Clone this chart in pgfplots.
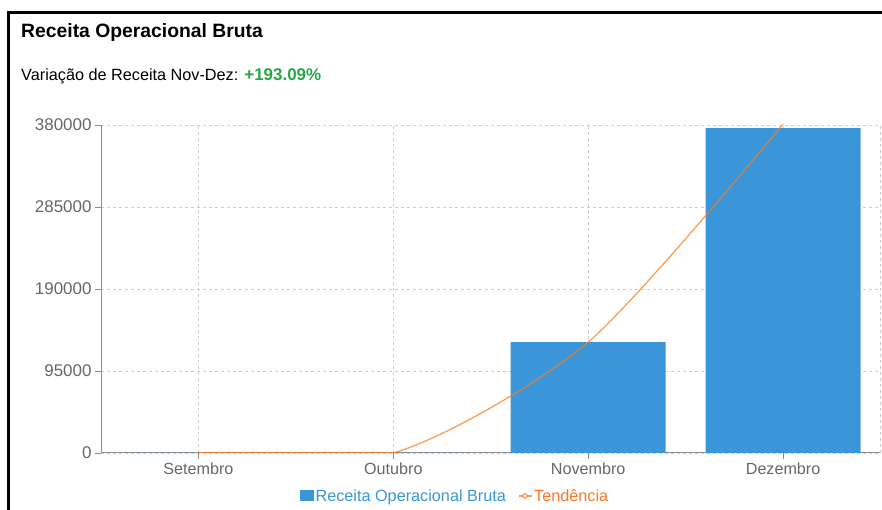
\documentclass[border=0pt]{standalone}
\usepackage{fontspec}
\setmainfont{Liberation Sans}
\usepackage{pgfplots}
\pgfplotsset{compat=1.18}
\definecolor{barblue}{RGB}{58,150,216}
\definecolor{trendor}{RGB}{250,125,30}
\definecolor{legor}{RGB}{250,120,40}
\definecolor{tickgray}{RGB}{102,102,102}
\definecolor{axgray}{RGB}{140,140,140}
\definecolor{gridgray}{RGB}{205,205,205}
\definecolor{vargreen}{RGB}{40,165,70}
\begin{document}
\begin{tikzpicture}[x=1bp,y=1bp]
\path[use as bounding box] (0,0) rectangle (882,510);
\draw[line width=3bp, black] (8.5,0) -- (8.5,497.5) -- (882,497.5);
\node[anchor=base west, inner sep=0pt] at (21,472) {\fontsize{19.4}{22}\selectfont\bfseries Receita Operacional Bruta};
\node[anchor=base west, inner sep=0pt] at (21,429) {\fontsize{16.3}{19}\selectfont Variação de Receita Nov-Dez: \textcolor{vargreen}{\bfseries\fontsize{17}{19}\selectfont +193.09\%}};
\begin{axis}[
  at={(101bp,57bp)}, anchor=south west,
  scale only axis, width=779.5bp, height=328bp,
  xmin=-0.5, xmax=3.5, ymin=0, ymax=380000,
  xtick={0,1,2,3},
  xticklabels={Setembro,Outubro,Novembro,Dezembro},
  ytick={0,95000,190000,285000,380000},
  scaled y ticks=false,
  /pgf/number format/assume math mode=true,
  /pgf/number format/fixed,
  /pgf/number format/1000 sep={},
  yticklabel style={font=\fontsize{17}{19}\selectfont, text=tickgray},
  xticklabel style={font=\fontsize{16.2}{19}\selectfont, text=tickgray},
  axis lines*=left,
  axis line style={axgray, line width=1pt},
  tick style={axgray, line width=0.8pt},
  tick align=outside,
  major tick length=6bp,
  grid=major,
  grid style={gridgray, dashed, dash pattern=on 3bp off 3bp, line width=0.8pt},
  extra x ticks={3.5},
  extra x tick labels={},
  extra x tick style={grid=major, major tick length=0pt},
  legend style={at={(0.454,-0.131)}, anchor=center, draw=none, fill=none,
    legend columns=-1, font=\fontsize{16.3}{19}\selectfont,
    /tikz/every even column/.append style={column sep=10bp},
    legend cell align=left},
  clip=true,
]
\addplot[ybar, bar width=0.795, fill=barblue, draw=none,
  legend image code/.code={\fill[barblue] (-1bp,-5.5bp) rectangle (13bp,5.5bp);}]
  coordinates {(0,0) (1,0) (2,128450) (3,376500)};
\addlegendentry{\textcolor{barblue}{Receita Operacional Bruta}}
\addplot[trendor, line width=1.3pt, opacity=0.75, smooth, tension=0.45, mark=none,
  legend image code/.code={\draw[legor, line width=1.2pt] (-1bp,0bp) -- (12bp,0bp); \draw[legor, line width=1.1pt, fill=white] (5.5bp,0bp) circle (2.3bp);}]
  coordinates {(0,0) (1,0) (2,128450) (3,381000)};
\addlegendentry{\textcolor{legor}{Tendência}}
\addplot[trendor, line width=1.3pt, opacity=0.75, sharp plot, mark=none, forget plot]
  coordinates {(0,0) (1,0)};
\end{axis}
\end{tikzpicture}
\end{document}
